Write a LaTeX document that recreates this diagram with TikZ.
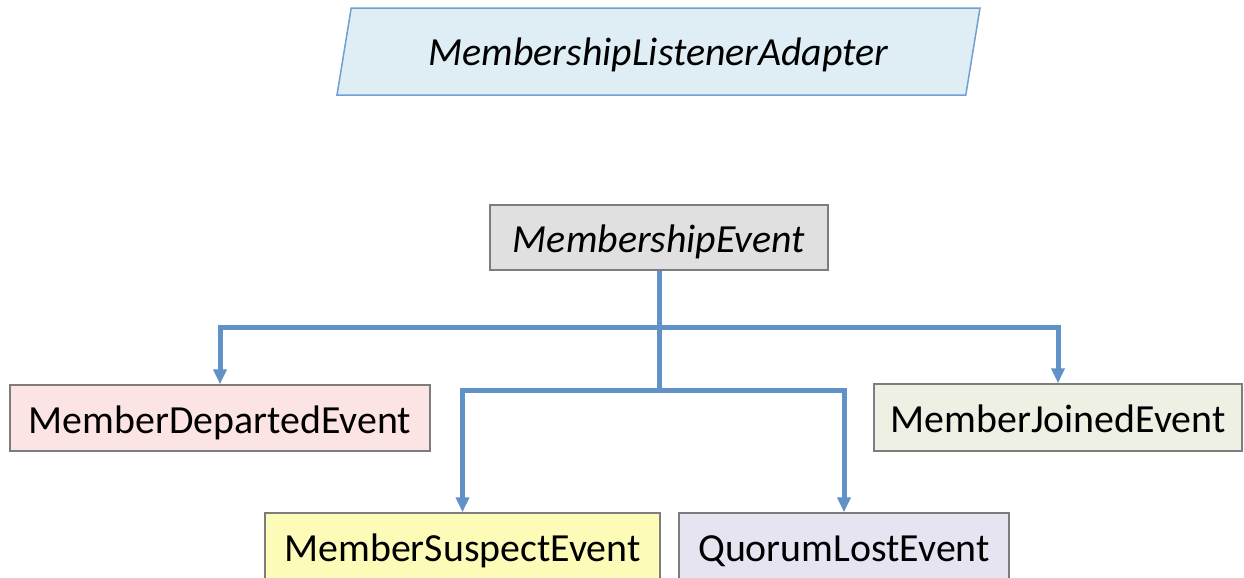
\documentclass[tikz,border=0pt]{standalone}
\usepackage{fontspec}
\setmainfont{Carlito}
\usetikzlibrary{arrows.meta,shapes.geometric}

\definecolor{linkblue}{RGB}{96,146,200}
\definecolor{adapterfill}{RGB}{223,238,245}
\definecolor{adapterline}{RGB}{110,160,210}
\definecolor{eventfill}{RGB}{224,224,224}
\definecolor{boxline}{RGB}{125,125,125}
\definecolor{departedfill}{RGB}{253,228,228}
\definecolor{joinedfill}{RGB}{237,240,226}
\definecolor{suspectfill}{RGB}{252,252,184}
\definecolor{quorumfill}{RGB}{230,228,240}

\tikzset{
  evbox/.style={draw=boxline,line width=1.5bp,rectangle,minimum height=66bp,
    inner sep=0pt,text height=36bp,text depth=6bp,font=\fontsize{40}{48}\selectfont},
  link/.style={draw=linkblue,line width=5bp},
  arr/.style={link,-{Triangle[length=15bp,width=13bp]}}
}

\begin{document}
\begin{tikzpicture}

\useasboundingbox (0bp,0bp) rectangle (1244bp,-578bp);

\node (adapter) at (658.5bp,-51.5bp)[draw=adapterline,line width=1.5bp,fill=adapterfill,
  trapezium,trapezium left angle=70,trapezium right angle=110,trapezium stretches body,
  minimum width=643bp,minimum height=87bp,inner sep=0pt,text height=33bp,text depth=6bp,
  font=\fontsize{40}{48}\selectfont\itshape] {MembershipListenerAdapter};

\node (event) at (659bp,-237.5bp)[evbox,fill=eventfill,minimum width=338bp,
  minimum height=65bp,font=\fontsize{40}{48}\selectfont\itshape] {MembershipEvent\hspace{12bp}};

\node (departed) at (220bp,-418bp)[evbox,fill=departedfill,minimum width=420bp] {MemberDepartedEvent};
\node (joined) at (1058bp,-417.5bp)[evbox,fill=joinedfill,minimum width=368bp,minimum height=67bp] {MemberJoinedEvent};
\node (suspect) at (462.5bp,-546bp)[evbox,fill=suspectfill,minimum width=395bp] {MemberSuspectEvent};
\node (quorum) at (844bp,-546bp)[evbox,fill=quorumfill,minimum width=330bp] {QuorumLostEvent};

\coordinate (busA) at (659bp,-327bp);
\coordinate (busB) at (659bp,-390bp);

\draw [link] (event.south) -- (busB);
\draw [arr] (busA) -| (departed.north);
\draw [arr] (busA) -| (joined.north);
\draw [arr] (busB) -| (suspect.north);
\draw [arr] (busB) -| (quorum.north);
\end{tikzpicture}
\end{document}
